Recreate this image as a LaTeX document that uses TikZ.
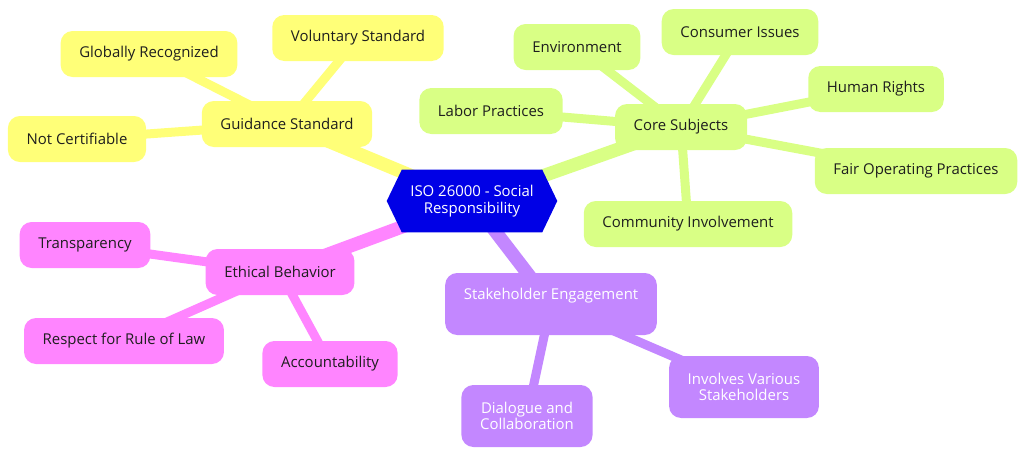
\documentclass[tikz,border=0pt]{standalone}
\usepackage{fontspec}
\setmainfont{Open Sans}
\usetikzlibrary{calc,backgrounds}

\definecolor{isoblue}{HTML}{0000E6}
\definecolor{guideyel}{HTML}{FFFF78}
\definecolor{coregrn}{HTML}{D9FF85}
\definecolor{ethpink}{HTML}{FF85FF}
\definecolor{stakepur}{HTML}{C387FF}
\definecolor{darktext}{HTML}{1E1E1E}

\begin{document}
\begin{tikzpicture}[
  x=0.75pt, y=-0.75pt,
  font=\fontsize{11.2}{12.2}\selectfont,
  topic/.style={rounded corners=9pt, align=center, inner xsep=14pt,
    minimum height=34.5pt, text=darktext},
  yel/.style={topic, fill=guideyel},
  grn/.style={topic, fill=coregrn},
  pnk/.style={topic, fill=ethpink},
  pur/.style={topic, fill=stakepur, text=white, minimum height=46.5pt},
  mainedge/.style={line width=10pt},
  leafedge/.style={line width=6.75pt}
]
  \useasboundingbox (0,0) rectangle (1024,457);

  % centre
  \node[minimum width=127.5pt, minimum height=46.5pt, align=center,
        text=white] (iso) at (472,201) {ISO 26000 - Social\\Responsibility};

  % guidance branch
  \node[yel] (guide) at (287,124) {Guidance Standard};
  \node[yel] (global) at (149,54) {Globally Recognized};
  \node[yel] (volun) at (358,38) {Voluntary Standard};
  \node[yel] (notcert) at (77,139) {Not Certifiable};

  % core subjects branch
  \node[grn] (core) at (681,127) {Core Subjects};
  \node[grn] (envir) at (577,47) {Environment};
  \node[grn] (consum) at (740,32) {Consumer Issues};
  \node[grn] (human) at (876,89) {Human Rights};
  \node[grn] (labor) at (491,111) {Labor Practices};
  \node[grn] (fairop) at (916,171) {Fair Operating Practices};
  \node[grn] (commun) at (688,224) {Community Involvement};

  % stakeholder branch
  \node[pur] (stake) at (551,304) {Stakeholder Engagement\\ \strut};
  \node[pur] (dialog) at (527,416) {Dialogue and\\Collaboration};
  \node[pur] (involv) at (744,387) {Involves Various\\Stakeholders};

  % ethics branch
  \node[pnk] (ethic) at (280,272) {Ethical Behavior};
  \node[pnk] (transp) at (85,245) {Transparency};
  \node[pnk] (ruleoflaw) at (124,341) {Respect for Rule of Law};
  \node[pnk] (account) at (330,364) {Accountability};

  \begin{scope}[on background layer]
    \draw[mainedge, guideyel] (iso.center) -- (guide.center);
    \draw[mainedge, coregrn] (iso.center) -- (core.center);
    \draw[mainedge, stakepur] (iso.center) -- (stake.center);
    \draw[mainedge, ethpink] (iso.center) -- (ethic.center);
    \foreach \leaf in {global,volun,notcert}
      \draw[leafedge, guideyel] (guide.center) -- (\leaf.center);
    \foreach \leaf in {envir,consum,human,labor,fairop,commun}
      \draw[leafedge, coregrn] (core.center) -- (\leaf.center);
    \foreach \leaf in {dialog,involv}
      \draw[leafedge, stakepur] (stake.center) -- (\leaf.center);
    \foreach \leaf in {transp,ruleoflaw,account}
      \draw[leafedge, ethpink] (ethic.center) -- (\leaf.center);
    % hexagon over the edges
    \fill[isoblue] (iso.west) -- ($(iso.north west)+(15,0)$)
      -- ($(iso.north east)+(-15,0)$) -- (iso.east)
      -- ($(iso.south east)+(-15,0)$) -- ($(iso.south west)+(15,0)$) -- cycle;
  \end{scope}
\end{tikzpicture}
\end{document}
